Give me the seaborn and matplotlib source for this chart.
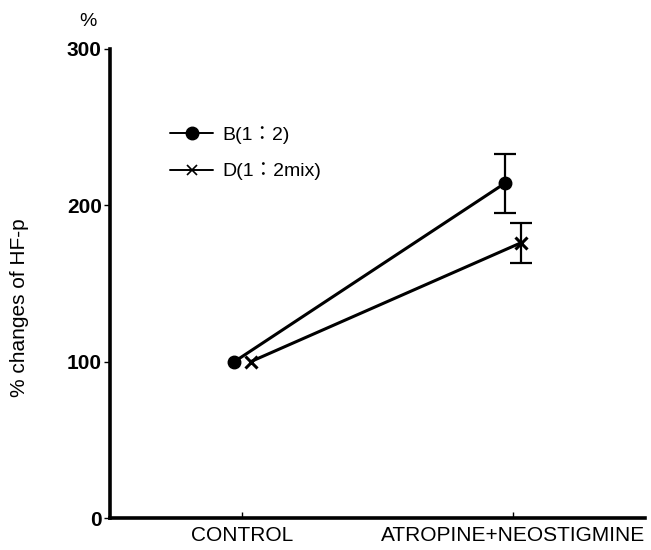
import matplotlib
matplotlib.use("Agg")
import matplotlib.pyplot as plt
import seaborn as sns
import pandas as pd
import numpy as np

categories = ["CONTROL", "ATROPINE+NEOSTIGMINE"]
series_names = ["B(1：2)", "D(1：2mix)"]
b_values = [100, 214]
b_err = [0, 19]
d_values = [100, 176]
d_err = [0, 13]
y_ticks = [0, 100, 200, 300]

sns.set_theme(style="ticks")
plt.rcParams['font.family'] = ['Liberation Sans', 'Noto Sans CJK JP', 'DejaVu Sans']
plt.rcParams['text.color'] = 'black'
plt.rcParams['xtick.color'] = 'black'
plt.rcParams['ytick.color'] = 'black'
plt.rcParams['axes.edgecolor'] = 'black'

fig = plt.figure(figsize=(6.51, 5.5), dpi=100)
ax = fig.add_axes([0.169, 0.058, 0.822, 0.853])

offsets = [-0.03, 0.03]
markers = ["o", "x"]
msizes = [9, 9]
rows = []
for name, vals, errs, off in zip(series_names, [b_values, d_values], [b_err, d_err], offsets):
    for i, (v, e) in enumerate(zip(vals, errs)):
        rows.append({"series": name, "x": i + off, "y": v, "err": e})
df = pd.DataFrame(rows)

for (name, mk, ms) in zip(series_names, markers, msizes):
    sub = df[df.series == name]
    sns.lineplot(data=sub, x="x", y="y", ax=ax, color="black", linewidth=2.2,
                 marker=mk, markersize=ms, markeredgewidth=2.2 if mk == "x" else 1,
                 markeredgecolor="black", label=name, legend=False)
    e = sub[sub.err > 0]
    ax.errorbar(e.x, e.y, yerr=e.err, fmt="none", ecolor="black",
                elinewidth=1.6, capsize=8, capthick=1.6)

ax.set_xlim(-0.49, 1.49)
ax.set_ylim(0, 300)
ax.set_xticks([0, 1])
ax.set_xticklabels(categories, fontsize=15)
ax.set_yticks(y_ticks)
ax.set_yticklabels([str(t) for t in y_ticks], fontsize=15, fontweight="bold")
ax.tick_params(axis="x", direction="in", length=4, width=1, pad=6)
ax.tick_params(axis="y", direction="out", length=4, width=1, pad=2)
ax.set_xlabel("")
ax.set_ylabel("")
sns.despine(ax=ax)
ax.spines["left"].set_linewidth(2.6)
ax.spines["bottom"].set_linewidth(2.6)

handles = [
    plt.Line2D([], [], color="black", lw=1.4, marker="o", markersize=9),
    plt.Line2D([], [], color="black", lw=1.4, marker="x", markersize=7, markeredgewidth=1.2),
]
ax.legend(handles, series_names, loc="upper left", bbox_to_anchor=(0.08, 0.873),
          frameon=False, handlelength=2.2, handletextpad=0.5,
          labelspacing=0.95,
          prop={'family': ['Liberation Sans', 'Noto Sans CJK JP', 'DejaVu Sans'], 'size': 14})

fig.text(20 / 651, 1 - 308 / 550, "% changes of HF-p", rotation=90, ha="center",
         va="center", fontsize=15, family=['Liberation Sans', 'DejaVu Sans'])
fig.text(88 / 651, 1 - 22 / 550, "%", ha="center", va="center", fontsize=14,
         family=['Liberation Sans', 'DejaVu Sans'])

fig.savefig("out.png", dpi=100)
